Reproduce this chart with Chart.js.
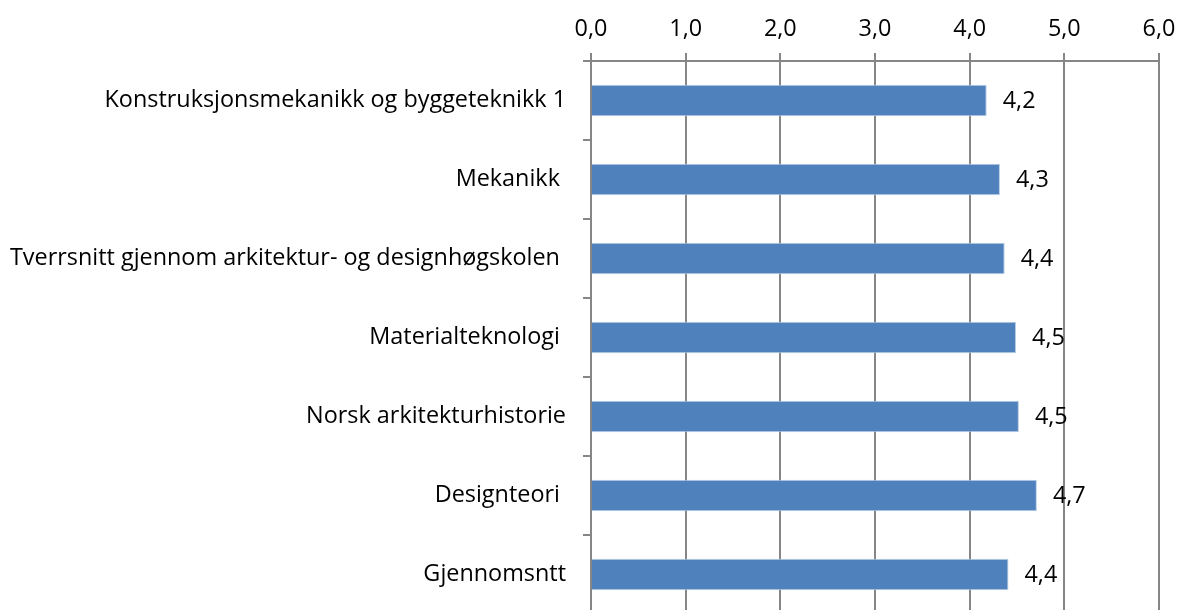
<!DOCTYPE html>
<html>
<head>
<meta charset="utf-8">
<script src="https://cdn.jsdelivr.net/npm/chart.js@4"></script>
<style>
  html, body { margin: 0; padding: 0; background: #fff; overflow: hidden; }
  #wrap { position: relative; width: 1179px; height: 616px; }
</style>
</head>
<body>
<div id="wrap"><canvas id="chart"></canvas></div>
<script>
// Chart data
const categories = [
  'Konstruksjonsmekanikk og byggeteknikk 1',
  'Mekanikk ',
  'Tverrsnitt gjennom arkitektur- og designhøgskolen ',
  'Materialteknologi ',
  'Norsk arkitekturhistorie',
  'Designteori ',
  'Gjennomsntt'
];
const scores = [4.18, 4.32, 4.37, 4.49, 4.52, 4.71, 4.41];
const axisMin = 0;
const axisMax = 6;
const axisStep = 1;

const FONT = '"Open Sans", Lato, sans-serif';
const FONT_SIZE = 23.4;
const GRID = '#868686';
const fmt = v => Number(v).toFixed(1).replace('.', ',');

// Draw value labels just right of each bar end
const barLabels = {
  id: 'barLabels',
  afterDatasetsDraw(chart) {
    const ctx = chart.ctx;
    const meta = chart.getDatasetMeta(0);
    ctx.save();
    ctx.font = FONT_SIZE + 'px ' + FONT;
    ctx.fillStyle = '#000';
    ctx.textAlign = 'left';
    ctx.textBaseline = 'middle';
    meta.data.forEach((bar, i) => {
      ctx.fillText(fmt(scores[i]), bar.x + 16, bar.y + 1);
    });
    ctx.restore();
  }
};

new Chart(document.getElementById('chart'), {
  type: 'bar',
  data: {
    labels: categories,
    datasets: [{
      data: scores,
      backgroundColor: '#4F81BD',
      borderColor: '#B9CDE5',
      borderWidth: 1,
      barPercentage: 0.4,
      categoryPercentage: 1
    }]
  },
  options: {
    indexAxis: 'y',
    responsive: true,
    maintainAspectRatio: false,
    animation: false,
    layout: { padding: { top: 0, right: 20, bottom: 2, left: 0 } },
    plugins: {
      legend: { display: false },
      tooltip: { enabled: false }
    },
    scales: {
      x: {
        position: 'top',
        min: axisMin,
        max: axisMax,
        afterFit: s => {
          s.height = 61;
          s.paddingLeft = 0;
          s.paddingRight = 0;
        },
        ticks: {
          stepSize: axisStep,
          color: '#000',
          padding: 10,
          font: { family: FONT, size: FONT_SIZE },
          callback: v => fmt(v)
        },
        grid: { color: GRID, lineWidth: 2, tickLength: 8 },
        border: { color: GRID, width: 2 }
      },
      y: {
        afterFit: s => {
          s.width = 591;
          s.paddingTop = 0;
          s.paddingBottom = 0;
        },
        ticks: {
          color: '#000',
          padding: 17,
          font: { family: FONT, size: FONT_SIZE }
        },
        grid: { drawOnChartArea: false, color: GRID, lineWidth: 2, tickLength: 8, offset: true },
        border: { color: GRID, width: 2 }
      }
    }
  },
  plugins: [barLabels]
});
</script>
</body>
</html>
